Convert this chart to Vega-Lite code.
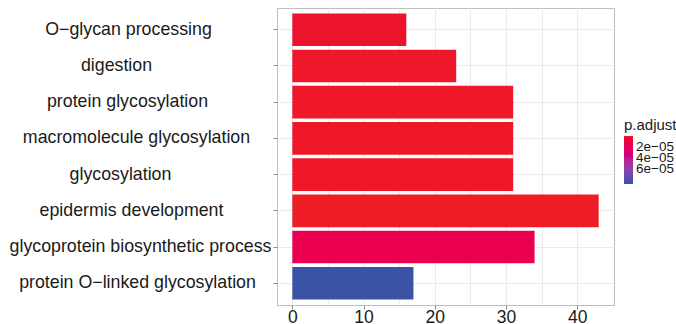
{
  "$schema": "https://vega.github.io/schema/vega-lite/v6.json",
  "width": 337,
  "height": 297,
  "autosize": {"type": "none"},
  "padding": {"left": 277, "top": 8, "right": 62, "bottom": 19},
  "background": "white",
  "config": {
    "font": "Liberation Sans",
    "view": {"stroke": "#bdbdbd", "strokeWidth": 1}
  },
  "data": {
    "values": [
      {"Description": "O−glycan processing", "Count": 16, "p_adjust": 2.0e-6},
      {"Description": "digestion", "Count": 23, "p_adjust": 1.5e-6},
      {"Description": "protein glycosylation", "Count": 31, "p_adjust": 1.0e-6},
      {"Description": "macromolecule glycosylation", "Count": 31, "p_adjust": 1.0e-6},
      {"Description": "glycosylation", "Count": 31, "p_adjust": 1.0e-6},
      {"Description": "epidermis development", "Count": 43, "p_adjust": 1.0e-7},
      {"Description": "glycoprotein biosynthetic process", "Count": 34, "p_adjust": 1.4e-5},
      {"Description": "protein O−linked glycosylation", "Count": 17, "p_adjust": 8.6e-5}
    ]
  },
  "mark": {"type": "bar"},
  "encoding": {
    "y": {
      "field": "Description",
      "type": "nominal",
      "sort": null,
      "title": null,
      "scale": {"paddingInner": 0.1, "paddingOuter": 0.15},
      "axis": {
        "bandPosition": 0.5,
        "domain": false,
        "grid": true,
        "gridColor": "#ebebeb",
        "gridWidth": 1,
        "ticks": true,
        "tickSize": 4,
        "tickColor": "#8a8a8a",
        "labelAlign": "center",
        "labelPadding": {
          "condition": [
            {"test": "datum.value === 'O−glycan processing'", "value": 145},
            {"test": "datum.value === 'digestion'", "value": 157},
            {"test": "datum.value === 'protein glycosylation'", "value": 146},
            {"test": "datum.value === 'macromolecule glycosylation'", "value": 137},
            {"test": "datum.value === 'glycosylation'", "value": 153},
            {"test": "datum.value === 'epidermis development'", "value": 142},
            {"test": "datum.value === 'glycoprotein biosynthetic process'", "value": 133}
          ],
          "value": 136
        },
        "labelFontSize": 17.8,
        "labelColor": "#1a1a1a",
        "labelLimit": 400
      }
    },
    "x": {
      "field": "Count",
      "type": "quantitative",
      "title": null,
      "scale": {"domain": [-2.15, 45.15], "nice": false, "zero": false},
      "axis": {
        "values": [0, 5, 10, 15, 20, 25, 30, 35, 40],
        "domain": false,
        "grid": true,
        "gridColor": "#ebebeb",
        "gridWidth": 1,
        "tickSize": 4,
        "tickColor": "#8a8a8a",
        "tickOpacity": {"condition": {"test": "datum.value % 10 !== 0", "value": 0}, "value": 1},
        "labelExpr": "datum.value % 10 === 0 ? datum.label : ''",
        "labelFontSize": 17.5,
        "labelColor": "#1a1a1a",
        "labelBaseline": "alphabetic",
        "labelPadding": 13,
        "labelFlush": false
      }
    },
    "x2": {"datum": 0},
    "color": {
      "field": "p_adjust",
      "type": "quantitative",
      "title": "p.adjust",
      "scale": {"domain": [8.6e-5, 0], "range": ["#3A53A4", "#EE1D25"], "interpolate": "hcl", "zero": false, "nice": false},
      "legend": {
        "orient": "none",
        "legendX": 347,
        "legendY": 110,
        "direction": "vertical",
        "gradientLength": 48,
        "gradientThickness": 9,
        "gradientStrokeWidth": 0,
        "values": [2e-5, 4e-5, 6e-5],
        "labelOverlap": false,
        "labelExpr": "format(datum.value * 1e5, '.0f') + 'e−05'",
        "labelFontSize": 13.5,
        "labelColor": "#1a1a1a",
        "labelOffset": 3,
        "titleFontSize": 15,
        "titleFontWeight": "normal",
        "titleColor": "#1a1a1a",
        "titlePadding": 3,
        "padding": 0
      }
    }
  }
}
